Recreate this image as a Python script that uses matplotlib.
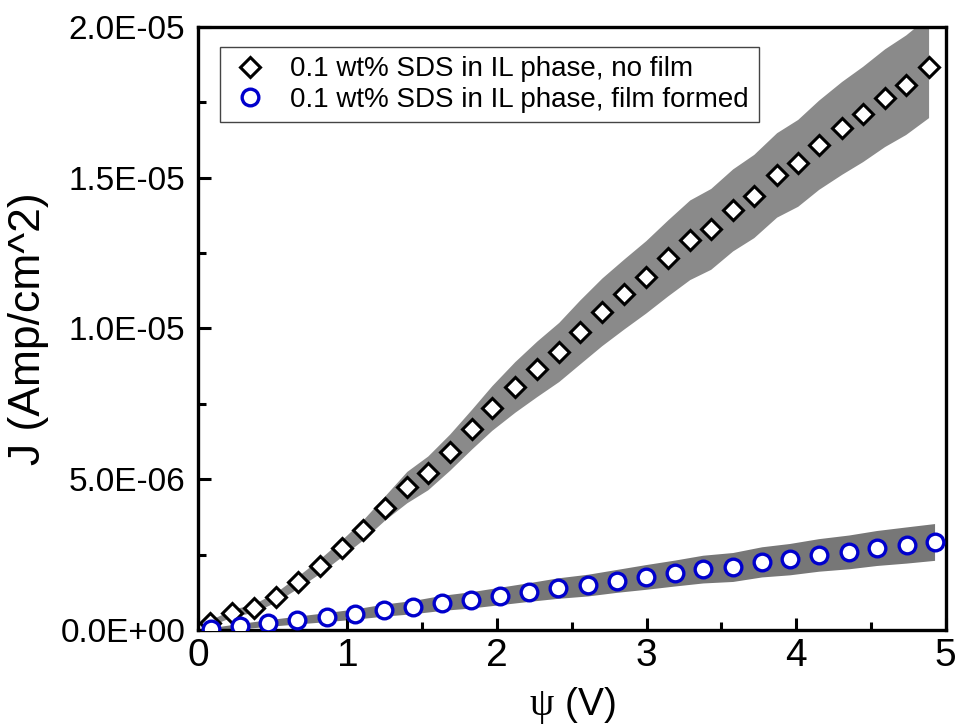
import numpy as np
import matplotlib.pyplot as plt
from matplotlib.ticker import MultipleLocator, FuncFormatter

plt.rcParams['font.family'] = ['Liberation Sans', 'DejaVu Sans']
plt.rcParams['mathtext.fontset'] = 'custom'
plt.rcParams['mathtext.rm'] = 'Liberation Serif'

# no film (diamonds), J in units of 1e-5 A/cm^2
v_nofilm = [0.080, 0.227, 0.374, 0.521, 0.668, 0.815, 0.963, 1.103, 1.250, 1.397,
            1.537, 1.684, 1.832, 1.965, 2.119, 2.266, 2.413, 2.553, 2.701, 2.848,
            2.995, 3.142, 3.289, 3.429, 3.576, 3.717, 3.870, 4.011, 4.151, 4.305,
            4.445, 4.592, 4.733, 4.886]
j_nofilm = [0.023, 0.056, 0.073, 0.109, 0.159, 0.212, 0.272, 0.332, 0.405, 0.474,
            0.521, 0.590, 0.667, 0.736, 0.806, 0.866, 0.922, 0.988, 1.055, 1.114,
            1.171, 1.234, 1.294, 1.330, 1.393, 1.439, 1.509, 1.549, 1.609, 1.665,
            1.711, 1.765, 1.808, 1.867]
err_nofilm = [0.010, 0.012, 0.014, 0.016, 0.020, 0.024, 0.028, 0.033, 0.040, 0.052,
              0.056, 0.060, 0.066, 0.074, 0.084, 0.092, 0.098, 0.106, 0.112, 0.116,
              0.120, 0.126, 0.132, 0.134, 0.136, 0.138, 0.140, 0.144, 0.148, 0.154,
              0.158, 0.162, 0.165, 0.168]

# film formed (circles), J in units of 1e-6 A/cm^2
v_film = [0.087, 0.281, 0.468, 0.662, 0.862, 1.049, 1.243, 1.437, 1.631, 1.825,
          2.019, 2.213, 2.406, 2.607, 2.801, 2.995, 3.189, 3.376, 3.576, 3.770,
          3.957, 4.151, 4.352, 4.539, 4.739, 4.926]
j_film = [0.03, 0.13, 0.23, 0.33, 0.43, 0.53, 0.66, 0.76, 0.90, 1.00,
          1.13, 1.26, 1.39, 1.49, 1.63, 1.76, 1.89, 2.02, 2.09, 2.26,
          2.35, 2.49, 2.59, 2.72, 2.82, 2.92]
err_film = [0.05, 0.09, 0.11, 0.13, 0.15, 0.17, 0.20, 0.22, 0.25, 0.27,
            0.29, 0.31, 0.34, 0.36, 0.38, 0.41, 0.43, 0.46, 0.48, 0.50,
            0.52, 0.54, 0.56, 0.58, 0.60, 0.61]

v1 = np.array(v_nofilm)
j1 = np.array(j_nofilm) * 1e-5
e1 = np.array(err_nofilm) * 1e-5
v2 = np.array(v_film)
j2 = np.array(j_film) * 1e-6
e2 = np.array(err_film) * 1e-6

fig = plt.figure(figsize=(9.61, 7.25), dpi=100)
ax = fig.add_axes([0.206, 0.131, 0.778, 0.832])

# error bands
ax.fill_between(v1, j1 - e1, j1 + e1, color='#8a8a8a', lw=0, zorder=1)
ax.fill_between(v2, j2 - e2, j2 + e2, color='#777777', lw=0, zorder=1)

ax.plot(v1, j1, 'D', ms=10.5, mfc='white', mec='black', mew=2.2, ls='none',
        zorder=3, label='0.1 wt% SDS in IL phase, no film')
ax.plot(v2, j2, 'o', ms=12, mfc='white', mec='#0000CC', mew=2.4, ls='none',
        zorder=3, label='0.1 wt% SDS in IL phase, film formed')

ax.set_xlim(0, 5)
ax.set_ylim(0, 2e-5)
ax.xaxis.set_major_locator(MultipleLocator(1))
ax.xaxis.set_minor_locator(MultipleLocator(0.5))
ax.yaxis.set_major_locator(MultipleLocator(5e-6))
ax.yaxis.set_minor_locator(MultipleLocator(2.5e-6))
ax.yaxis.set_major_formatter(FuncFormatter(lambda y, pos: '%.1E' % y))

for s in ax.spines.values():
    s.set_linewidth(2.4)
ax.tick_params(which='both', direction='in', top=False, right=False, width=2.2)
ax.tick_params(which='major', length=9)
ax.tick_params(which='minor', length=5.5)
ax.tick_params(axis='x', labelsize=28, pad=6)
ax.tick_params(axis='y', labelsize=24, pad=9)

ax.set_xlabel(r'$\mathrm{\psi}$ (V)', fontsize=28, labelpad=8)
ax.set_ylabel('J (Amp/cm^2)', fontsize=32, labelpad=8)

leg = ax.legend(loc='upper left', bbox_to_anchor=(0.029, 0.967), borderaxespad=0,
                fontsize=20, frameon=True, fancybox=False, framealpha=1,
                edgecolor='#444444', handlelength=1.5, handletextpad=0.7,
                borderpad=0.35, labelspacing=0.15)
leg.get_frame().set_linewidth(1.0)

fig.savefig('out.png', dpi=100)
